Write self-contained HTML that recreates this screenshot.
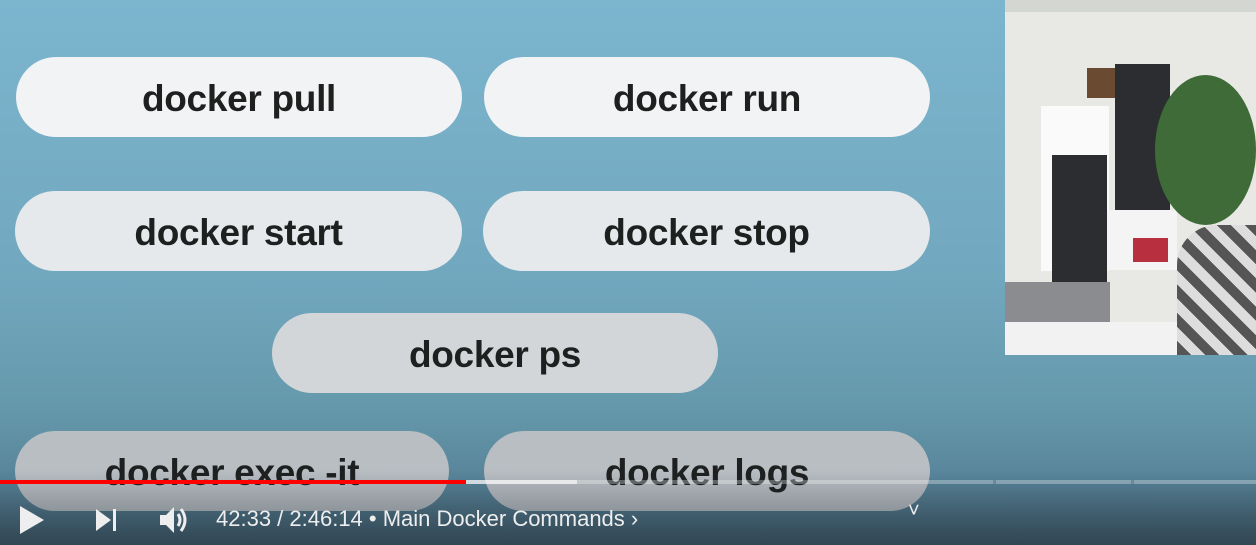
<!DOCTYPE html>
<html><head><style>
*{margin:0;padding:0;box-sizing:border-box}
body{width:1256px;height:545px;overflow:hidden;position:relative;font-family:"Liberation Sans",sans-serif;
background:linear-gradient(180deg,#7bb5ce 0%,#72a8bf 50%,#6598ab 75%,#58849a 88%,#456575 100%);}
.p{position:absolute;height:80px;border-radius:40px;display:flex;align-items:center;justify-content:center;padding-top:3px;
font-weight:bold;font-size:37px;color:#1e2020;letter-spacing:-0.3px}
.cam{position:absolute;left:1005px;top:0;width:251px;height:355px;background:#e8e9e4;overflow:hidden}
.cam div{position:absolute}
.shade{position:absolute;left:0;top:470px;width:1256px;height:75px;background:linear-gradient(180deg,rgba(30,40,50,0) 0%,rgba(30,40,50,0.5) 100%)}
.bar{position:absolute;top:480px;height:4px}
.ctl{position:absolute;color:#eee;font-size:22px;top:506px}
</style></head><body>
<div class="p" style="left:16px;top:57px;width:446px;background:#f1f3f4">docker pull</div>
<div class="p" style="left:484px;top:57px;width:446px;background:#f1f3f4">docker run</div>
<div class="p" style="left:15px;top:191px;width:447px;background:#e6e9eb">docker start</div>
<div class="p" style="left:483px;top:191px;width:447px;background:#e6e9eb">docker stop</div>
<div class="p" style="left:272px;top:313px;width:446px;background:#d2d6d9">docker ps</div>
<div class="p" style="left:15px;top:431px;width:434px;background:#b8bec2">docker exec -it</div>
<div class="p" style="left:484px;top:431px;width:446px;background:#b8bec2">docker logs</div>
<div class="cam">
 <div style="left:0;top:0;width:251px;height:12px;background:#d4d6d2"></div>
 <div style="left:36px;top:106px;width:68px;height:165px;background:#fafafa"></div>
 <div style="left:47px;top:155px;width:55px;height:130px;background:#2b2d30"></div>
 <div style="left:82px;top:68px;width:38px;height:30px;background:#6a4a30"></div>
 <div style="left:110px;top:64px;width:55px;height:152px;background:#2b2d30"></div>
 <div style="left:102px;top:210px;width:70px;height:60px;background:#f4f4f4"></div>
 <div style="left:128px;top:238px;width:35px;height:24px;background:#b83040"></div>
 <div style="left:150px;top:75px;width:101px;height:150px;background:#3f6b38;border-radius:50%"></div>
 <div style="left:0;top:282px;width:105px;height:40px;background:#8a8c8f"></div>
 <div style="left:0;top:322px;width:251px;height:33px;background:#f2f2f2"></div>
 <div style="left:172px;top:225px;width:79px;height:130px;background:repeating-linear-gradient(45deg,#555 0 10px,#ddd 10px 20px);border-radius:40px 0 0 0"></div>
</div>
<div class="shade"></div>
<div class="bar" style="left:0;width:1256px;background:rgba(255,255,255,0.3)"></div>
<div class="bar" style="left:466px;width:111px;background:rgba(255,255,255,0.6)"></div>
<div class="bar" style="left:0;width:466px;background:#f00"></div>
<div class="bar" style="left:993px;width:3px;background:#6a8a98"></div>
<div class="bar" style="left:1131px;width:3px;background:#6a8a98"></div>
<svg style="position:absolute;left:18px;top:505px" width="28" height="30"><path d="M2 1 L26 15 L2 29Z" fill="#eee"/></svg>
<svg style="position:absolute;left:95px;top:508px" width="26" height="24"><path d="M1 1 L16 12 L1 23Z" fill="#eee"/><rect x="18" y="1" width="3" height="22" fill="#eee"/></svg>
<svg style="position:absolute;left:159px;top:505px" width="32" height="30"><path d="M1 10 H7 L15 2 V28 L7 20 H1Z" fill="#eee"/><path d="M19 9 Q23 15 19 21" stroke="#eee" stroke-width="3" fill="none"/><path d="M22 4 Q30 15 22 26" stroke="#eee" stroke-width="3" fill="none"/></svg>
<div class="ctl" style="left:216px">42:33 / 2:46:14 • Main Docker Commands ›</div>
<div class="ctl" style="left:908px;top:500px;font-size:20px">˅</div>
</body></html>
